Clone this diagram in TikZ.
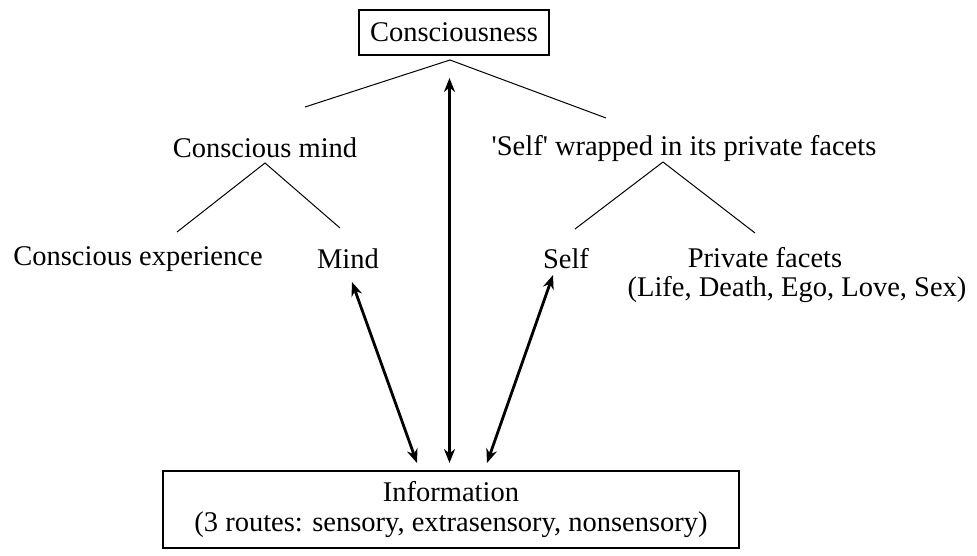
\documentclass[tikz,border=0pt]{standalone}
\usepackage{fontspec}
\setmainfont{Liberation Serif}
\usetikzlibrary{arrows.meta}
\begin{document}
\begin{tikzpicture}[x=1pt,y=-1pt,
  every node/.style={font=\fontsize{28.5}{30}\selectfont, inner sep=0pt, anchor=center},
  boxnode/.style={draw, line width=1.2pt},
  treeline/.style={line width=1pt},
  dblarrow/.style={line width=2.8pt, {Stealth[length=14pt,width=11pt]}-{Stealth[length=14pt,width=11pt]}}
]
\useasboundingbox (0,0) rectangle (977,555);

% top and bottom boxes
\node[boxnode, minimum width=190pt, minimum height=45pt] (cons) at (454,32.5) {Consciousness};
\node[boxnode, minimum width=576pt, minimum height=77pt, align=center] (info) at (451,509.5)
  {Information\\(3 routes: sensory, extrasensory, nonsensory)};

% second level
\node (cmind) at (265,148) {Conscious mind};
\node (wself) at (684,148) {\textquotesingle Self\textquotesingle{} wrapped in its private facets};

% third level
\node (cexp) at (138,259) {Conscious experience};
\node (mind) at (348,259) {Mind};
\node (self) at (566,259) {Self};
\node (facets) at (765,258) {Private facets};
\node (faclist) at (797,290) {(Life, Death, Ego, Love, Sex)};

% end points of the tree branches
\coordinate (apex) at (450,60);
\coordinate (cmtop) at (305,107);
\coordinate (wstop) at (606,118);
\coordinate (cmbot) at (265,163);
\coordinate (cexptop) at (177,232);
\coordinate (mindtop) at (340,228);
\coordinate (wsbot) at (663,162);
\coordinate (selftop) at (575,229);
\coordinate (factop) at (755,233);

\draw[treeline] (cmtop) -- (apex) -- (wstop);
\draw[treeline] (cexptop) -- (cmbot) -- (mindtop);
\draw[treeline] (selftop) -- (wsbot) -- (factop);

% information links
\coordinate (m1) at (352,282);
\coordinate (m2) at (417,463);
\coordinate (c1) at (449.5,78);
\coordinate (c2) at (449.5,463);
\coordinate (s1) at (553,275);
\coordinate (s2) at (487,463);
\draw[dblarrow] (m1) -- (m2);
\draw[dblarrow] (c1) -- (c2);
\draw[dblarrow] (s1) -- (s2);
\end{tikzpicture}
\end{document}
